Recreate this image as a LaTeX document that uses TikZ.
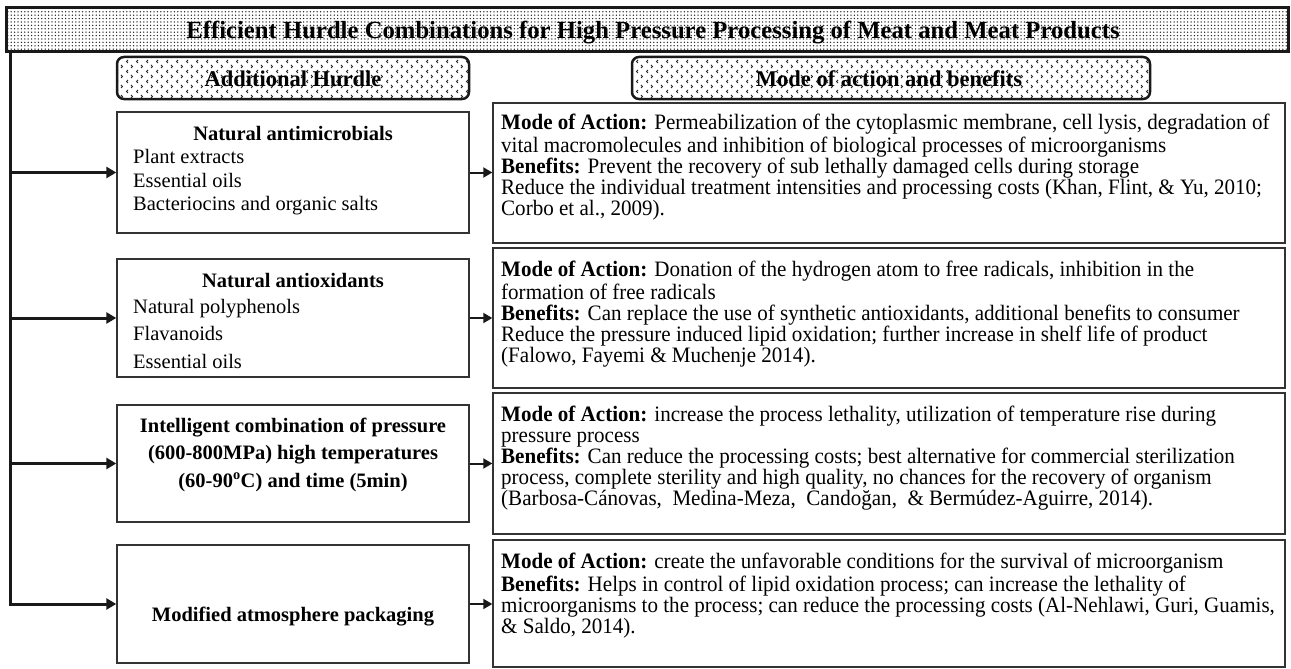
\documentclass[tikz,border=0pt]{standalone}
\usepackage{fontspec}
\setmainfont{Liberation Serif}
\newfontfamily\cond{Liberation Serif}[FakeStretch=0.957]
\usetikzlibrary{patterns,arrows.meta}
\pgfdeclarepatternformonly{chev}{\pgfqpoint{-1pt}{-1pt}}{\pgfqpoint{11pt}{11pt}}{\pgfqpoint{10pt}{10pt}}{%
  \pgfsetlinewidth{0.8pt}%
  \pgfpathmoveto{\pgfqpoint{1pt}{1pt}}\pgfpathlineto{\pgfqpoint{2.5pt}{2.5pt}}\pgfpathlineto{\pgfqpoint{1pt}{4pt}}%
  \pgfpathmoveto{\pgfqpoint{8pt}{6pt}}\pgfpathlineto{\pgfqpoint{6.5pt}{7.5pt}}\pgfpathlineto{\pgfqpoint{8pt}{9pt}}%
  \pgfusepath{stroke}%
}
\pgfdeclarepatternformonly{bigdots}{\pgfqpoint{-1pt}{-1pt}}{\pgfqpoint{4pt}{4pt}}{\pgfqpoint{3.4pt}{3.4pt}}{%
  \pgfpathcircle{\pgfqpoint{1pt}{1pt}}{0.75pt}%
  \pgfusepath{fill}%
}
\begin{document}
\begin{tikzpicture}[x=1pt,y=-1pt,
  titlebar/.style={draw=black!90, line width=3pt, pattern=bigdots, pattern color=black!85, minimum width=1282pt, minimum height=44pt, inner sep=0pt},
  hdr/.style={draw=black!90, line width=2.5pt, rounded corners=7pt, pattern=chev, pattern color=black!85, minimum height=42pt, inner sep=0pt},
  lbox/.style={draw=black!80, line width=1.4pt, minimum width=352pt, inner sep=0pt},
  rbox/.style={draw=black!80, line width=1.4pt, minimum width=792pt, inner sep=0pt},
  feed/.style={draw=black!90, line width=3pt, -{Triangle[length=10pt,width=11pt]}},
  link/.style={draw=black!90, line width=2pt, -{Triangle[length=9pt,width=10pt]}},
  rtext/.style={anchor=north west, inner sep=0pt, align=left, font=\cond\fontsize{22}{21}\selectfont},
  lhead/.style={anchor=base, inner sep=0pt, font=\bfseries\fontsize{20.5}{24}\selectfont},
  litems/.style={anchor=north west, inner sep=0pt, align=left},
  htext/.style={anchor=base, inner sep=0pt, font=\bfseries\fontsize{22.5}{26}\selectfont}
]
\useasboundingbox (0,0) rectangle (1291,669);
% title
\node[titlebar] (T) at (647,30) {};
\node[anchor=base, inner sep=0pt, font=\bfseries\fontsize{24.7}{29}\selectfont] (Tt) at (653,38.5) {Efficient Hurdle Combinations for High Pressure Processing of Meat and Meat Products};
% headers
\node[hdr, minimum width=352pt] (H1) at (293,78) {};
\node[htext] (H1t) at (293,86) {Additional Hurdle};
\node[hdr, minimum width=518pt] (H2) at (891,78) {};
\node[htext] (H2t) at (889,86) {Mode of action and benefits};
% left boxes
\node[lbox, minimum height=121pt] (L1) at (293,172.5) {};
\node[lbox, minimum height=118pt] (L2) at (293,318) {};
\node[lbox, minimum height=117pt] (L3) at (293,463.5) {};
\node[lbox, minimum height=118pt] (L4) at (293,604) {};
% right boxes
\node[rbox, minimum height=140pt] (R1) at (889,173) {};
\node[rbox, minimum height=140pt] (R2) at (889,318) {};
\node[rbox, minimum height=141pt] (R3) at (889,463.5) {};
\node[rbox, minimum height=127pt] (R4) at (889,603.5) {};
% left texts
\node[lhead] (L1h) at (293,140) {Natural antimicrobials};
\node[litems, font=\fontsize{20.5}{23.5}\selectfont] (L1i) at (133,147) {\strut Plant extracts\\Essential oils\\Bacteriocins and organic salts};
\node[lhead] (L2h) at (293,287) {Natural antioxidants};
\node[litems, font=\fontsize{20.5}{27.5}\selectfont] (L2i) at (133,293.75) {\strut Natural polyphenols\\Flavanoids\\Essential oils};
\node[anchor=north, inner sep=0pt, align=center, font=\bfseries\fontsize{20.5}{27.5}\selectfont] (L3t) at (293,412.75) {\strut Intelligent combination of pressure\\(600-800MPa) high temperatures\\(60-90\textsuperscript{o}C) and time (5min)};
\node[lhead] (L4t) at (293,621) {Modified atmosphere packaging};
% right texts
\node[rtext] (R1t) at (501,114.3) {\strut\textbf{Mode of Action:} Permeabilization of the cytoplasmic membrane, cell lysis, degradation of\\
vital macromolecules and inhibition of biological processes of microorganisms\\
\textbf{Benefits:} Prevent the recovery of sub lethally damaged cells during storage\\
Reduce the individual treatment intensities and processing costs (Khan, Flint, \& Yu, 2010;\\
Corbo et al., 2009).};
\node[rtext] (R2t) at (501,261.3) {\strut\textbf{Mode of Action:} Donation of the hydrogen atom to free radicals, inhibition in the\\
formation of free radicals\\
\textbf{Benefits:} Can replace the use of synthetic antioxidants, additional benefits to consumer\\
Reduce the pressure induced lipid oxidation; further increase in shelf life of product\\
(Falowo, Fayemi \& Muchenje 2014).};
\node[rtext] (R3t) at (501,406.3) {\strut\textbf{Mode of Action:} increase the process lethality, utilization of temperature rise during\\
pressure process\\
\textbf{Benefits:} Can reduce the processing costs; best alternative for commercial sterilization\\
process, complete sterility and high quality, no chances for the recovery of organism\\
(Barbosa-Cánovas,\ \ Medina-Meza,\ \ Candoğan,\ \ \& Bermúdez-Aguirre, 2014).};
\node[rtext] (R4t) at (501,553.3) {\strut\textbf{Mode of Action:} create the unfavorable conditions for the survival of microorganism\\
\textbf{Benefits:} Helps in control of lipid oxidation process; can increase the lethality of\\
microorganisms to the process; can reduce the processing costs (Al-Nehlawi, Guri, Guamis,\\
\& Saldo, 2014).};
% connectors
\coordinate (spine) at (10,52);
\draw[feed] (spine) |- (L4.west);
\draw[feed] (spine |- L1.west) -- (L1.west);
\draw[feed] (spine |- L2.west) -- (L2.west);
\draw[feed] (spine |- L3.west) -- (L3.west);
\draw[link] (L1.east) -- (L1.east -| R1.west);
\draw[link] (L2.east) -- (L2.east -| R2.west);
\draw[link] (L3.east) -- (L3.east -| R3.west);
\draw[link] (L4.east) -- (L4.east -| R4.west);
\end{tikzpicture}
\end{document}
